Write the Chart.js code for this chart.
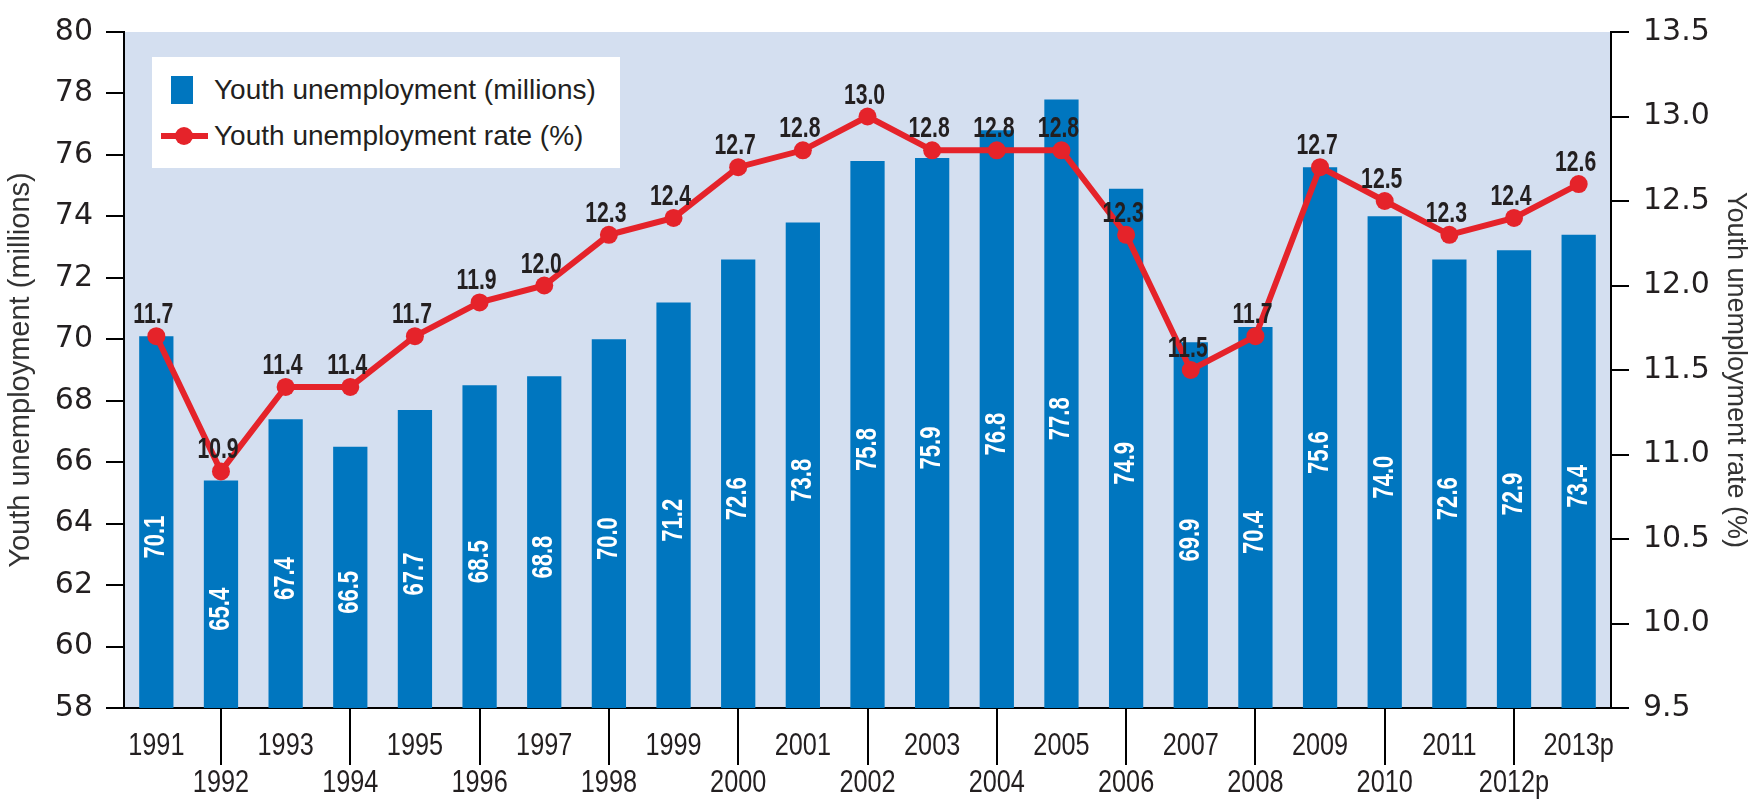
<!DOCTYPE html>
<html>
<head>
<meta charset="utf-8">
<script src="https://cdn.jsdelivr.net/npm/chart.js@4.4.1/dist/chart.umd.min.js"></script>
<style>
  html, body { margin: 0; padding: 0; background: #fff; }
  #wrap { position: relative; width: 1752px; height: 801px; }
  #legend {
    position: absolute; left: 152px; top: 57px; width: 468px; height: 111px;
    background: #fff; font-family: 'Liberation Sans', Arial, sans-serif;
    font-size: 28px; color: #231f20;
  }
  .item { position: absolute; left: 0; height: 40px; line-height: 40px; }
  .item span { position: absolute; left: 62px; white-space: nowrap; }
  .swatch { position: absolute; left: 19px; top: 6px; width: 22px; height: 28px; background: #0076bf; }
  .lineKey { position: absolute; left: 9px; top: 17px; width: 47px; height: 6px; background: #e5232a; }
  .dot { position: absolute; left: 23px; top: 11px; width: 18px; height: 18px; border-radius: 50%; background: #e5232a; }
</style>
</head>
<body>
<div id="wrap">
  <canvas id="chart" width="1752" height="801"></canvas>
  <div id="legend">
    <div class="item" style="top:13px"><div class="swatch"></div><span>Youth unemployment (millions)</span></div>
    <div class="item" style="top:59px"><div class="lineKey"></div><div class="dot"></div><span>Youth unemployment rate (%)</span></div>
  </div>
</div>
<script>
const years = ['1991','1992','1993','1994','1995','1996','1997','1998','1999','2000','2001','2002',
  '2003','2004','2005','2006','2007','2008','2009','2010','2011','2012p','2013p']
const youthMillions = [70.1, 65.4, 67.4, 66.5, 67.7, 68.5, 68.8, 70.0, 71.2, 72.6, 73.8, 75.8,
  75.9, 76.8, 77.8, 74.9, 69.9, 70.4, 75.6, 74.0, 72.6, 72.9, 73.4]
const youthRate = [11.7, 10.9, 11.4, 11.4, 11.7, 11.9, 12.0, 12.3, 12.4, 12.7, 12.8, 13.0,
  12.8, 12.8, 12.8, 12.3, 11.5, 11.7, 12.7, 12.5, 12.3, 12.4, 12.6]

const leftTicks = { min: 58, max: 80, step: 2 }
const rightTicks = { min: 9.5, max: 13.5, step: 0.5 }

const INK = '#231f20'
const SANS = "'Liberation Sans', Arial, sans-serif"

const plotBg = {
  id: 'plotBg',
  beforeDraw(chart) {
    const { ctx, chartArea: a } = chart
    ctx.save()
    ctx.fillStyle = '#d4dff0'
    ctx.fillRect(a.left, a.top, a.right - a.left, a.bottom - a.top)
    ctx.restore()
  }
}

// condensed text: squeeze along the writing direction
function narrowText(ctx, text, x, y, squeeze, angle) {
  ctx.save()
  ctx.translate(x, y)
  if (angle) ctx.rotate(angle)
  ctx.scale(squeeze, 1)
  ctx.fillText(text, 0, 0)
  ctx.restore()
}

const valueLabels = {
  id: 'valueLabels',
  afterDatasetsDraw(chart) {
    const ctx = chart.ctx
    const xs = chart.scales.x, ys = chart.scales.y, yr = chart.scales.y1
    ctx.save()
    ctx.textAlign = 'center'
    ctx.textBaseline = 'middle'

    // bar values, rotated, in white
    ctx.font = 'bold 29px ' + SANS
    ctx.fillStyle = '#ffffff'
    youthMillions.forEach((v, i) => {
      const top = ys.getPixelForValue(v)
      const mid = (top + chart.chartArea.bottom) / 2 + 15
      narrowText(ctx, v.toFixed(1), xs.getPixelForValue(i), mid, 0.76, -Math.PI / 2)
    })

    // rate values above the points
    ctx.font = 'bold 29px ' + SANS
    ctx.fillStyle = INK
    ctx.textBaseline = 'alphabetic'
    youthRate.forEach((v, i) => {
      narrowText(ctx, v.toFixed(1), xs.getPixelForValue(i) - 3, yr.getPixelForValue(v) - 13, 0.73)
    })

    // year labels: odd years on the first row, even years on the second
    ctx.font = '32px ' + SANS
    ctx.textBaseline = 'middle'
    const base = chart.chartArea.bottom
    years.forEach((y, i) => {
      const row = i % 2 === 0 ? 38 : 75
      narrowText(ctx, y, xs.getPixelForValue(i), base + row, 0.79)
    })
    ctx.restore()
  }
}

new Chart(document.getElementById('chart'), {
  data: {
    labels: years,
    datasets: [{
      type: 'line',
      label: 'Youth unemployment rate (%)',
      data: youthRate,
      yAxisID: 'y1',
      borderColor: '#e5232a',
      backgroundColor: '#e5232a',
      borderWidth: 6,
      pointRadius: 9,
      pointHoverRadius: 9,
      pointBackgroundColor: '#e5232a',
      pointBorderWidth: 0,
      tension: 0,
      order: 0
    }, {
      type: 'bar',
      label: 'Youth unemployment (millions)',
      data: youthMillions,
      yAxisID: 'y',
      backgroundColor: '#0076bf',
      barPercentage: 0.53,
      categoryPercentage: 1,
      order: 1
    }]
  },
  options: {
    responsive: false,
    animation: false,
    devicePixelRatio: 1,
    layout: { padding: { top: 27, left: 0, right: 0, bottom: 0 } },
    plugins: {
      legend: { display: false },
      tooltip: { enabled: false }
    },
    scales: {
      x: {
        offset: true,
        grid: {
          offset: false,
          drawOnChartArea: false,
          tickLength: 57,
          lineWidth: 2,
          color: ctx => (ctx.index % 2 === 1 ? '#000' : 'rgba(0,0,0,0)')
        },
        border: { display: true, color: '#000', width: 2 },
        ticks: { display: false, autoSkip: false },
        afterFit(scale) { scale.height = 93 }
      },
      y: {
        position: 'left',
        min: leftTicks.min,
        max: leftTicks.max,
        ticks: {
          stepSize: leftTicks.step,
          padding: 13,
          color: INK,
          font: { family: "'DejaVu Sans', sans-serif", size: 30 }
        },
        grid: { drawOnChartArea: false, tickLength: 18, lineWidth: 2, color: '#000' },
        border: { display: true, color: '#000', width: 2 },
        title: {
          display: true,
          text: 'Youth unemployment (millions)',
          color: '#333',
          font: { family: SANS, size: 29 },
          padding: { top: 4, bottom: 0 }
        },
        afterFit(scale) { scale.width = 124 }
      },
      y1: {
        position: 'right',
        min: rightTicks.min,
        max: rightTicks.max,
        ticks: {
          stepSize: rightTicks.step,
          padding: 14,
          color: INK,
          font: { family: "'DejaVu Sans', sans-serif", size: 30 },
          callback: v => v.toFixed(1)
        },
        grid: { drawOnChartArea: false, tickLength: 18, lineWidth: 2, color: '#000' },
        border: { display: true, color: '#000', width: 2 },
        title: {
          display: true,
          text: 'Youth unemployment rate (%)',
          color: '#333',
          font: { family: SANS, size: 27 },
          padding: { top: 0, bottom: 3 }
        },
        afterFit(scale) { scale.width = 141 }
      }
    }
  },
  plugins: [plotBg, valueLabels]
})
</script>
</body>
</html>
